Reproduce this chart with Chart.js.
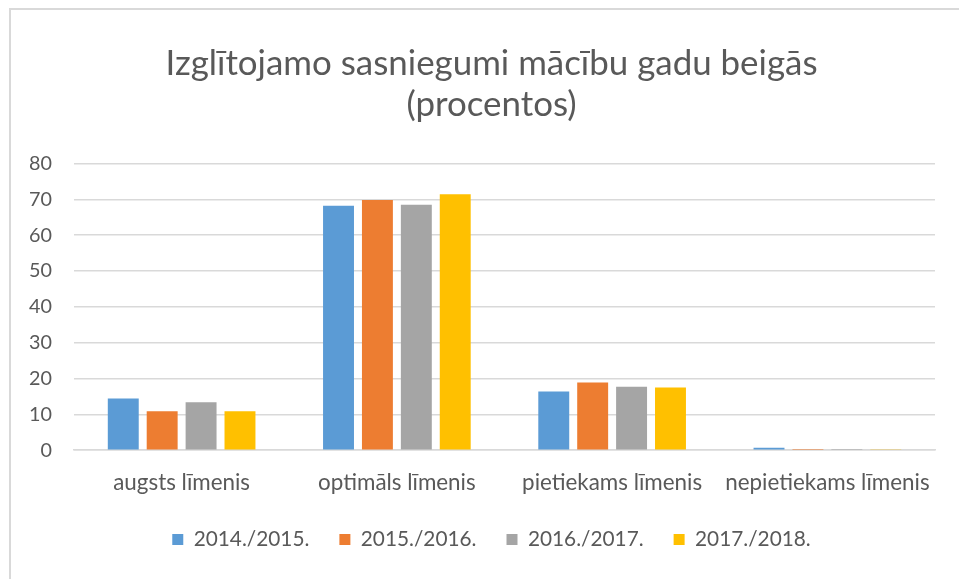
<!DOCTYPE html>
<html>
<head>
<meta charset="utf-8">
<script src="https://cdn.jsdelivr.net/npm/chart.js@4"></script>
<style>
  html, body { margin: 0; padding: 0; background: #fff; overflow: hidden; }
  #wrap { position: relative; width: 959px; height: 579px; }
  #frame { position: absolute; left: 9px; top: 8px; width: 1000px; height: 700px;
           border-top: 2px solid #d9d9d9; border-left: 2px solid #d9d9d9; box-sizing: border-box; pointer-events: none; }
  canvas { position: absolute; left: 0; top: 0; }
</style>
</head>
<body>
<div id="wrap">
  <canvas id="c" width="959" height="579"></canvas>
  <div id="frame"></div>
</div>
<script>
const categories = ["augsts līmenis", "optimāls līmenis", "pietiekams līmenis", "nepietiekams līmenis"];
const seriesNames = ["2014./2015.", "2015./2016.", "2016./2017.", "2017./2018."];
const v2014 = [14.4, 68.2, 16.4, 0.7];
const v2015 = [10.9, 69.8, 18.9, 0.3];
const v2016 = [13.4, 68.5, 17.7, 0.3];
const v2017 = [10.9, 71.4, 17.5, 0.1];
const yTicks = [0, 10, 20, 30, 40, 50, 60, 70, 80];
const colors = ["#5B9BD5", "#ED7D31", "#A5A5A5", "#FFC000"];
const titleLines = ["Izglītojamo sasniegumi mācību gadu beigās", "(procentos)"];

const FONT = "Lato, 'Open Sans', sans-serif";
const mctx = document.createElement('canvas').getContext('2d');
function fitSize(text, target) {
  mctx.font = "30px " + FONT;
  return Math.round(30 * target / mctx.measureText(text).width * 10) / 10;
}

function build() {
  const titleSize = fitSize(titleLines[0], 652);
  const catSize = fitSize(categories[0], 137);
  const tickSize = fitSize("80", 23);
  const legSize = fitSize(seriesNames[0], 116);

  const seriesValues = [v2014, v2015, v2016, v2017];
  const datasets = seriesNames.map((n, i) => ({
    label: n,
    data: seriesValues[i],
    backgroundColor: colors[i],
    borderWidth: 0,
    categoryPercentage: 0.723,
    barPercentage: 0.795
  }));

  new Chart(document.getElementById('c'), {
    type: 'bar',
    data: { labels: categories, datasets },
    options: {
      responsive: false,
      animation: false,
      devicePixelRatio: 1,
      layout: { padding: { left: 48, right: 24, top: 0, bottom: 19 } },
      plugins: {
        title: {
          display: true,
          text: titleLines,
          color: "#595959",
          font: { family: FONT, size: titleSize, weight: 'normal', lineHeight: '41px' },
          padding: { top: 43.5, bottom: 38 }
        },
        legend: {
          position: 'bottom',
          labels: {
            color: "#595959",
            font: { family: FONT, size: legSize },
            boxWidth: 11, boxHeight: 11,
            padding: 30
          }
        },
        tooltip: { enabled: false }
      },
      scales: {
        x: {
          afterFit: (s) => { s.height = 49; },
          grid: { display: false, drawTicks: false },
          border: { display: true, color: "#d9d9d9", width: 1.5 },
          ticks: { color: "#595959", font: { family: FONT, size: catSize }, padding: 19, maxRotation: 0 }
        },
        y: {
          min: 0, max: 80,
          afterBuildTicks: (s) => { s.ticks = yTicks.map(v => ({ value: v })); },
          afterFit: (s) => { s.width = 26; s._computeLabelArea = () => null; },
          grid: { color: "#d9d9d9", lineWidth: 1.5, drawTicks: false },
          border: { display: false },
          ticks: { color: "#595959", font: { family: FONT, size: tickSize }, padding: 22 }
        }
      }
    }
  });
}
if (document.fonts && document.fonts.load) {
  Promise.all([document.fonts.load("20px Lato")]).then(build, build);
} else { build(); }
</script>
</body>
</html>
